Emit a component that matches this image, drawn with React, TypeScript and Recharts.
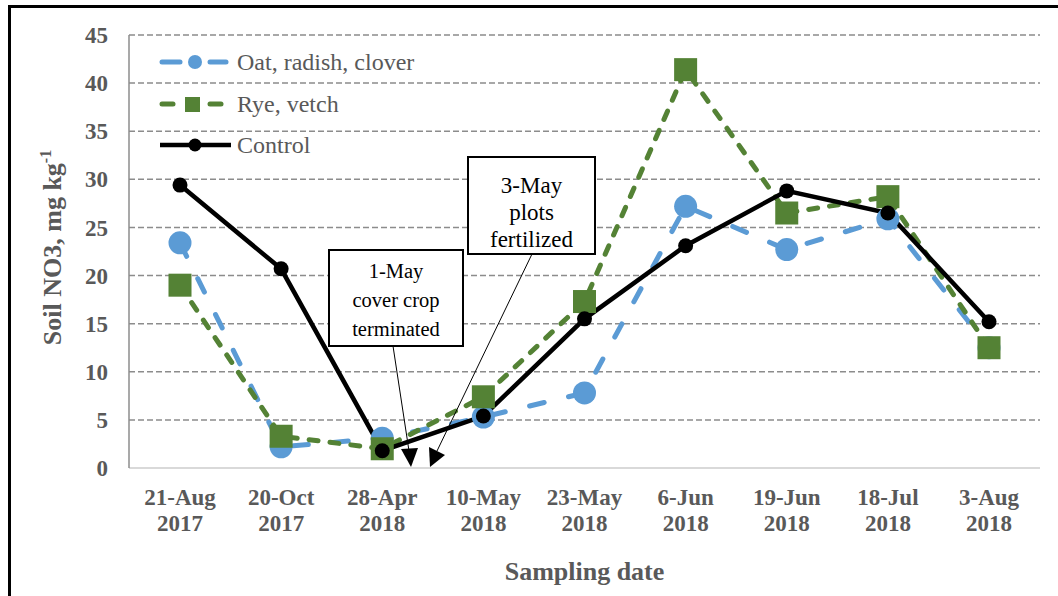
import React from 'react'
import { LineChart, Line, XAxis, YAxis, CartesianGrid } from 'recharts'

const dates = ['21-Aug', '20-Oct', '28-Apr', '10-May', '23-May', '6-Jun', '19-Jun', '18-Jul', '3-Aug']
const years = ['2017', '2017', '2018', '2018', '2018', '2018', '2018', '2018', '2018']
const oat = [23.4, 2.2, 3.1, 5.3, 7.8, 27.2, 22.7, 25.9, 12.5]
const rye = [19.0, 3.3, 2.0, 7.4, 17.3, 41.4, 26.5, 28.2, 12.5]
const control = [29.4, 20.7, 1.8, 5.4, 15.5, 23.1, 28.8, 26.5, 15.2]
const yTicks = [0, 5, 10, 15, 20, 25, 30, 35, 40, 45]

const seriesNames = ['Oat, radish, clover', 'Rye, vetch', 'Control']

const BLUE = '#5B9BD5'
const GREEN = '#548235'
const TEXT = '#595959'
const FONT = '"Liberation Serif", "Times New Roman", serif'

const data = dates.map((d, i) => ({
  date: d,
  year: years[i],
  oat: oat[i],
  rye: rye[i],
  control: control[i],
}))

function DateTick(props: any) {
  const { x, y, payload } = props
  const i = dates.indexOf(payload.value)
  return (
    <text x={x} y={y} textAnchor="middle" fill={TEXT} fontSize={23} fontWeight={700} fontFamily={FONT}>
      <tspan x={x} dy={37}>{payload.value}</tspan>
      <tspan x={x} dy={26}>{years[i]}</tspan>
    </text>
  )
}

const oatDot = (p: any) => <circle key={`o${p.index}`} cx={p.cx} cy={p.cy} r={11.5} fill={BLUE} />
const ryeDot = (p: any) => (
  <rect key={`r${p.index}`} x={p.cx - 11.5} y={p.cy - 11.5} width={23} height={23} fill={GREEN} />
)
const controlDot = (p: any) => <circle key={`c${p.index}`} cx={p.cx} cy={p.cy} r={7.5} fill="#000" />

function XTitle(props: any) {
  const vb = props.viewBox
  return (
    <text x={vb.x + vb.width / 2} y={vb.y + 112} textAnchor="middle" fill={TEXT} fontSize={26} fontWeight={700} fontFamily={FONT}>
      Sampling date
    </text>
  )
}

function YTitle(props: any) {
  const vb = props.viewBox
  const cx = vb.x + 61
  const cy = vb.y + vb.height / 2 - 4
  return (
    <text x={cx} y={cy} transform={`rotate(-90, ${cx}, ${cy})`} textAnchor="middle" fill={TEXT} fontSize={26} fontWeight={700} fontFamily={FONT}>
      Soil NO3, mg kg<tspan dy={-10} fontSize={16}>-1</tspan>
    </text>
  )
}

function Overlay() {
  const txt = { fill: TEXT, fontSize: 24, fontFamily: FONT }
  const note = { fill: '#000', fontFamily: FONT, textAnchor: 'middle' as const }
  return (
    <svg width={1058} height={596} style={{ position: 'absolute', left: 0, top: 0, pointerEvents: 'none' }}>
      {/* outer frame */}
      <path d="M9.5,1000 L9.5,6.5 L1100,6.5" fill="none" stroke="#000" strokeWidth={3} />

      {/* legend */}
      <line x1={162} y1={62} x2={180} y2={62} stroke={BLUE} strokeWidth={5} strokeLinecap="round" />
      <line x1={210} y1={62} x2={226} y2={62} stroke={BLUE} strokeWidth={5} strokeLinecap="round" />
      <circle cx={195} cy={62} r={7} fill={BLUE} />
      <text x={237} y={70} {...txt}>{seriesNames[0]}</text>

      <line x1={162} y1={104} x2={173} y2={104} stroke={GREEN} strokeWidth={5} strokeLinecap="round" />
      <line x1={210} y1={104} x2={221} y2={104} stroke={GREEN} strokeWidth={5} strokeLinecap="round" />
      <rect x={185} y={97} width={15} height={15} fill={GREEN} />
      <text x={237} y={112} {...txt}>{seriesNames[1]}</text>

      <line x1={160} y1={145} x2={231} y2={145} stroke="#000" strokeWidth={4.5} />
      <circle cx={195} cy={145} r={6.5} fill="#000" />
      <text x={237} y={153} {...txt}>{seriesNames[2]}</text>

      {/* annotations */}
      <rect x={329} y={250} width={134} height={96} fill="#fff" stroke="#000" strokeWidth={2} />
      <text x={396} y={278} fontSize={20.5} {...note}>1-May</text>
      <text x={396} y={307} fontSize={20.5} {...note}>cover crop</text>
      <text x={396} y={336} fontSize={20.5} {...note}>terminated</text>

      <rect x={468} y={157} width={127} height={97} fill="#fff" stroke="#000" strokeWidth={2} />
      <text x={531.5} y={193} fontSize={23} {...note}>3-May</text>
      <text x={531.5} y={220} fontSize={23} {...note}>plots</text>
      <text x={531.5} y={247} fontSize={23} {...note}>fertilized</text>

      <line x1={393} y1={346} x2={409} y2={451} stroke="#000" strokeWidth={1} />
      <polygon points="411,467 401,449 418,448" fill="#000" />
      <line x1={532} y1={254} x2={437} y2={451} stroke="#000" strokeWidth={1} />
      <polygon points="430,467 429,447 445,455" fill="#000" />
    </svg>
  )
}

export default function App() {
  return (
    <div style={{ position: 'fixed', left: 0, top: 0, width: 1058, height: 596, overflow: 'hidden', background: '#fff' }}>
      <LineChart width={1058} height={596} data={data} margin={{ top: 35, right: 18, bottom: 0, left: 0 }}>
        <CartesianGrid vertical={false} stroke="#8c8c8c" strokeWidth={1.5} strokeDasharray="6 3" />
        <XAxis
          dataKey="date"
          height={128}
          interval={0}
          padding={{ left: 51, right: 51 }}
          tick={<DateTick />}
          tickLine={false}
          tickSize={0}
          tickMargin={0}
          axisLine={{ stroke: '#d9d9d9', strokeWidth: 2 }}
          label={<XTitle />}
        />
        <YAxis
          width={129}
          domain={[0, 45]}
          ticks={yTicks}
          interval={0}
          tickLine={false}
          tickSize={0}
          tickMargin={21}
          axisLine={{ stroke: '#8c8c8c', strokeWidth: 1.5 }}
          tick={{ fill: TEXT, fontSize: 23, fontWeight: 700, fontFamily: FONT }}
          label={<YTitle />}
        />
        <YAxis
          yAxisId="right"
          orientation="right"
          width={0}
          domain={[0, 45]}
          tick={false}
          tickLine={false}
          axisLine={{ stroke: '#8c8c8c', strokeWidth: 1.5 }}
        />
        <Line
          dataKey="oat"
          name={seriesNames[0]}
          stroke={BLUE}
          strokeWidth={5}
          strokeDasharray="15 25"
          strokeLinecap="round"
          dot={oatDot}
          activeDot={false}
          isAnimationActive={false}
        />
        <Line
          dataKey="rye"
          name={seriesNames[1]}
          stroke={GREEN}
          strokeWidth={5}
          strokeDasharray="9 12"
          strokeLinecap="round"
          dot={ryeDot}
          activeDot={false}
          isAnimationActive={false}
        />
        <Line
          dataKey="control"
          name={seriesNames[2]}
          stroke="#000"
          strokeWidth={4.5}
          dot={controlDot}
          activeDot={false}
          isAnimationActive={false}
        />
      </LineChart>
      <Overlay />
    </div>
  )
}
